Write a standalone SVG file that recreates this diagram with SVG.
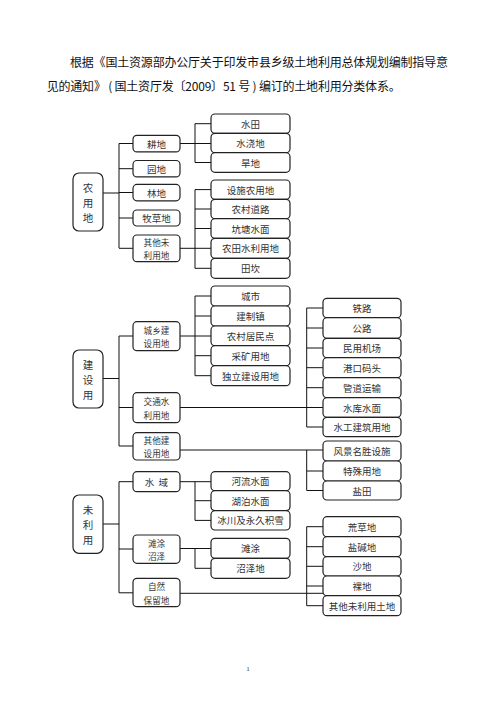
<svg xmlns="http://www.w3.org/2000/svg" width="496" height="702" viewBox="0 0 496 702">
<style>
.b{fill:#fff;stroke:#222;stroke-width:1.2}
.t{font-family:"Noto Sans CJK SC","Noto Sans",sans-serif;font-size:9.5px;fill:#333;text-anchor:middle;dominant-baseline:central}
.s{font-family:"Noto Sans CJK SC","Noto Sans",sans-serif;font-size:8.6px;fill:#333;text-anchor:middle;dominant-baseline:central}
.r{font-family:"Noto Sans CJK SC","Noto Sans",sans-serif;font-size:10.5px;fill:#333;text-anchor:middle;dominant-baseline:central}
.h{font-family:"Noto Sans CJK SC","Noto Sans",sans-serif;font-size:12px;fill:#111}
.c{fill:none;stroke:#111;stroke-width:1}
</style>
<rect width="496" height="702" fill="#fff"/>
<g id="title">
<text class="h" x="70" y="66.5" textLength="378" lengthAdjust="spacing">根据《国土资源部办公厅关于印发市县乡级土地利用总体规划编制指导意</text>
<text class="h" x="46.7" y="90.5" textLength="354" lengthAdjust="spacing" xml:space="preserve">见的通知》 ( 国土资厅发〔2009〕51 号 ) 编订的土地利用分类体系。</text>
</g>
<g id="connectors">
<path class="c" d="M103 193H119M119 143.5V248M119 143.5H133M119 168.7H133M119 192.5H133M119 218H133M119 248.3H133"/>
<path class="c" d="M180 143.5H211M195 123.7V162.5M195 123.7H211M195 162.5H211"/>
<path class="c" d="M180 248.3H211M195 189.6V268.3M195 189.6H211M195 209H211M195 228.5H211M195 268.3H211"/>
<path class="c" d="M103 378.5H119M119 336V446M119 336H133M119 407.5H133M119 446H133"/>
<path class="c" d="M180 336H211M195 296V375.7M195 296H211M195 316H211M195 355.7H211M195 375.7H211"/>
<path class="c" d="M180 407.5H323M306.7 308V427M306.7 308H323M306.7 328H323M306.7 348H323M306.7 367.7H323M306.7 387.7H323M306.7 427H323"/>
<path class="c" d="M180 450H323M306.7 450V490.5M306.7 471H323M306.7 490.5H323"/>
<path class="c" d="M103 524H119M119 481.7V592.8M119 481.7H133M119 549H133M119 592.8H133"/>
<path class="c" d="M180 481.7H211M195 481.7V520.4M195 500.7H211M195 520.4H211"/>
<path class="c" d="M180 548.5H211M195 548.5V568.3M195 568.3H211"/>
<path class="c" d="M180 593.3H323M306.7 526.7V605.7M306.7 526.7H323M306.7 546.7H323M306.7 566.3H323M306.7 586H323M306.7 605.7H323"/>
</g>
<g id="n-nongyong"><rect class="b" x="73" y="173" width="30" height="58" rx="6"/><text class="r" x="88" y="187">农</text><text class="r" x="88" y="202">用</text><text class="r" x="88" y="217">地</text></g>
<g id="n-gengdi"><rect class="b" x="133" y="135.3" width="47" height="16.6" rx="4"/><text class="t" x="156.5" y="143.6">耕地</text></g>
<g id="n-yuandi"><rect class="b" x="133" y="160.5" width="47" height="16.4" rx="4"/><text class="t" x="156.5" y="168.7">园地</text></g>
<g id="n-lindi"><rect class="b" x="133" y="184.4" width="47" height="16.4" rx="4"/><text class="t" x="156.5" y="192.6">林地</text></g>
<g id="n-mucaodi"><rect class="b" x="133" y="210" width="47" height="16" rx="4"/><text class="t" x="156.5" y="218">牧草地</text></g>
<g id="n-qitawei"><rect class="b" x="133" y="235" width="47" height="26.7" rx="4"/><text class="s" x="156.5" y="242.3">其他未</text><text class="s" x="156.5" y="254.6">利用地</text></g>
<g id="n-shuitian"><rect class="b" x="211" y="114" width="79" height="19.3" rx="4"/><text class="t" x="250.5" y="123.7">水田</text></g>
<g id="n-shuijiaodi"><rect class="b" x="211" y="133.3" width="79" height="19.4" rx="4"/><text class="t" x="250.5" y="143">水浇地</text></g>
<g id="n-handi"><rect class="b" x="211" y="152.7" width="79" height="19.6" rx="4"/><text class="t" x="250.5" y="162.5">旱地</text></g>
<g id="n-sheshi"><rect class="b" x="211" y="180" width="79" height="19.3" rx="4"/><text class="t" x="250.5" y="189.6">设施农用地</text></g>
<g id="n-nongcundaolu"><rect class="b" x="211" y="199.3" width="79" height="19.4" rx="4"/><text class="t" x="250.5" y="209">农村道路</text></g>
<g id="n-kengtang"><rect class="b" x="211" y="218.7" width="79" height="19.6" rx="4"/><text class="t" x="250.5" y="228.5">坑塘水面</text></g>
<g id="n-nongtianshuili"><rect class="b" x="211" y="238.3" width="79" height="20" rx="4"/><text class="t" x="250.5" y="248.3">农田水利用地</text></g>
<g id="n-tiankan"><rect class="b" x="211" y="258.3" width="79" height="20" rx="4"/><text class="t" x="250.5" y="268.3">田坎</text></g>
<g id="n-jianshe"><rect class="b" x="73" y="350" width="30" height="58" rx="6"/><text class="r" x="88" y="364">建</text><text class="r" x="88" y="379">设</text><text class="r" x="88" y="394">用</text></g>
<g id="n-chengxiang"><rect class="b" x="133" y="321.7" width="47" height="29" rx="4"/><text class="s" x="156.5" y="329.8">城乡建</text><text class="s" x="156.5" y="343">设用地</text></g>
<g id="n-jiaotong"><rect class="b" x="133" y="392.7" width="47" height="30" rx="4"/><text class="s" x="156.5" y="401">交通水</text><text class="s" x="156.5" y="414.5">利用地</text></g>
<g id="n-qitajian"><rect class="b" x="133" y="432.7" width="47" height="27.3" rx="4"/><text class="s" x="156.5" y="440.3">其他建</text><text class="s" x="156.5" y="453.3">设用地</text></g>
<g id="n-chengshi"><rect class="b" x="211" y="286" width="79" height="20" rx="4"/><text class="t" x="250.5" y="296">城市</text></g>
<g id="n-jianzhizhen"><rect class="b" x="211" y="306" width="79" height="20" rx="4"/><text class="t" x="250.5" y="316">建制镇</text></g>
<g id="n-nongcunjumin"><rect class="b" x="211" y="326" width="79" height="19.7" rx="4"/><text class="t" x="250.5" y="335.8">农村居民点</text></g>
<g id="n-caikuang"><rect class="b" x="211" y="345.7" width="79" height="20" rx="4"/><text class="t" x="250.5" y="355.7">采矿用地</text></g>
<g id="n-duli"><rect class="b" x="211" y="365.7" width="79" height="20" rx="4"/><text class="t" x="250.5" y="375.7">独立建设用地</text></g>
<g id="n-tielu"><rect class="b" x="323" y="298.3" width="78" height="19.4" rx="4"/><text class="t" x="362" y="308">铁路</text></g>
<g id="n-gonglu"><rect class="b" x="323" y="317.7" width="78" height="20.6" rx="4"/><text class="t" x="362" y="328">公路</text></g>
<g id="n-minyong"><rect class="b" x="323" y="338.3" width="78" height="19.4" rx="4"/><text class="t" x="362" y="348">民用机场</text></g>
<g id="n-gangkou"><rect class="b" x="323" y="357.7" width="78" height="20" rx="4"/><text class="t" x="362" y="367.7">港口码头</text></g>
<g id="n-guandao"><rect class="b" x="323" y="377.7" width="78" height="20" rx="4"/><text class="t" x="362" y="387.7">管道运输</text></g>
<g id="n-shuiku"><rect class="b" x="323" y="397.7" width="78" height="19.6" rx="4"/><text class="t" x="362" y="407.5">水库水面</text></g>
<g id="n-shuigong"><rect class="b" x="323" y="417.3" width="78" height="19.4" rx="4"/><text class="t" x="362" y="427">水工建筑用地</text></g>
<g id="n-fengjing"><rect class="b" x="323" y="441" width="78" height="20" rx="4"/><text class="t" x="362" y="451">风景名胜设施</text></g>
<g id="n-teshu"><rect class="b" x="323" y="461" width="78" height="20" rx="4"/><text class="t" x="362" y="471">特殊用地</text></g>
<g id="n-yantian"><rect class="b" x="323" y="481" width="78" height="19" rx="4"/><text class="t" x="362" y="490.5">盐田</text></g>
<g id="n-weiliyong"><rect class="b" x="73" y="495" width="30" height="58.3" rx="6"/><text class="r" x="88" y="509">未</text><text class="r" x="88" y="524">利</text><text class="r" x="88" y="539">用</text></g>
<g id="n-shuiyu"><rect class="b" x="133" y="471.7" width="47" height="20" rx="4"/><text class="t" x="156.5" y="481.7" xml:space="preserve">水  域</text></g>
<g id="n-tantuzhaoze"><rect class="b" x="133" y="535" width="47" height="28.3" rx="4"/><text class="s" x="156.5" y="542.8">滩涂</text><text class="s" x="156.5" y="556">沼泽</text></g>
<g id="n-ziran"><rect class="b" x="133" y="578.3" width="47" height="28.4" rx="4"/><text class="s" x="156.5" y="586">自然</text><text class="s" x="156.5" y="599.5">保留地</text></g>
<g id="n-heliu"><rect class="b" x="211" y="471.7" width="79" height="19" rx="4"/><text class="t" x="250.5" y="481.2">河流水面</text></g>
<g id="n-hupo"><rect class="b" x="211" y="490.7" width="79" height="20" rx="4"/><text class="t" x="250.5" y="500.7">湖泊水面</text></g>
<g id="n-bingchuan"><rect class="b" x="211" y="510.7" width="79" height="19.3" rx="4"/><text class="t" x="250.5" y="520.4">冰川及永久积雪</text></g>
<g id="n-tantu"><rect class="b" x="211" y="538.3" width="79" height="20" rx="4"/><text class="t" x="250.5" y="548.3">滩涂</text></g>
<g id="n-zhaozedi"><rect class="b" x="211" y="558.3" width="79" height="20" rx="4"/><text class="t" x="250.5" y="568.3">沼泽地</text></g>
<g id="n-huangcao"><rect class="b" x="323" y="516.7" width="78" height="20" rx="4"/><text class="t" x="362" y="526.7">荒草地</text></g>
<g id="n-yanjian"><rect class="b" x="323" y="536.7" width="78" height="20" rx="4"/><text class="t" x="362" y="546.7">盐碱地</text></g>
<g id="n-shadi"><rect class="b" x="323" y="556.7" width="78" height="19.3" rx="4"/><text class="t" x="362" y="566.3">沙地</text></g>
<g id="n-luodi"><rect class="b" x="323" y="576" width="78" height="19.7" rx="4"/><text class="t" x="362" y="586">裸地</text></g>
<g id="n-qitaweiliyong"><rect class="b" x="323" y="595.7" width="78" height="20" rx="4"/><text class="t" x="362" y="605.7">其他未利用土地</text></g>
<text x="248" y="670.5" font-family="Liberation Serif, serif" font-size="7" fill="#333" text-anchor="middle">1</text>
</svg>
